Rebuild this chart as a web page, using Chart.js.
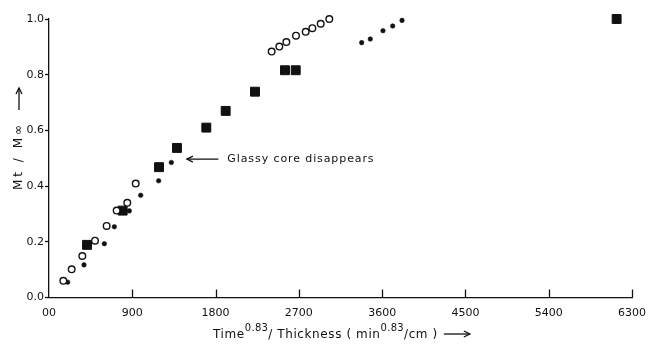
<!DOCTYPE html>
<html>
<head>
<meta charset="utf-8">
<script src="https://cdn.jsdelivr.net/npm/chart.js@4.4.0/dist/chart.umd.min.js"></script>
<style>
    html, body { margin: 0; padding: 0; background: #fff; }
    #wrap { width: 648px; height: 345px; }
</style>
</head>
<body>
<div id="wrap"><canvas id="sorption"></canvas></div>
<script>
// open circles
const openX = [155, 245, 360, 497, 623, 731, 846, 937, 2406, 2489, 2565, 2669, 2774, 2846, 2936, 3029];
const openY = [0.060, 0.101, 0.149, 0.204, 0.257, 0.312, 0.340, 0.409, 0.883, 0.901, 0.917, 0.940, 0.954, 0.967, 0.983, 1.000];
// small filled dots
const dotX = [202, 378, 598, 706, 868, 991, 1185, 1322, 3379, 3472, 3609, 3714, 3815];
const dotY = [0.055, 0.117, 0.193, 0.254, 0.311, 0.367, 0.419, 0.485, 0.915, 0.928, 0.958, 0.975, 0.995];
// filled squares
const squareX = [411, 796, 1189, 1383, 1700, 1909, 2226, 2550, 2666, 6134];
const squareY = [0.189, 0.312, 0.468, 0.537, 0.610, 0.670, 0.739, 0.816, 0.816, 1.000];

const xTicks = [0, 900, 1800, 2700, 3600, 4500, 5400, 6300];
const yTicks = [0.0, 0.2, 0.4, 0.6, 0.8, 1.0];

const note = { text: 'Glassy core disappears', tipX: 1490, tailX: 1830, y: 0.497 };

const ink = '#111';
const font = 'DejaVu Sans, sans-serif';

function pts(xs, ys) {
    return xs.map((x, i) => ({ x: x, y: ys[i] }));
}

function arrowHead(ctx, x, y, dir) {
    // dir: 1 right, -1 left
    ctx.beginPath();
    ctx.moveTo(x - dir * 6, y - 3);
    ctx.lineTo(x, y);
    ctx.lineTo(x - dir * 6, y + 3);
    ctx.stroke();
}

// inward x ticks, axis titles and the annotation
const decor = {
    id: 'decor',
    afterDraw(chart) {
        const { ctx, chartArea } = chart;
        const xs = chart.scales.x, ys = chart.scales.y;
        ctx.save();
        ctx.strokeStyle = ink;
        ctx.fillStyle = ink;
        ctx.lineWidth = 1.3;

        xTicks.forEach(v => {
            if (v === 0) return;
            const px = Math.round(xs.getPixelForValue(v)) + 0.5;
            ctx.beginPath();
            ctx.moveTo(px, chartArea.bottom);
            ctx.lineTo(px, chartArea.bottom - 8);
            ctx.stroke();
        });

        // annotation
        const ay = ys.getPixelForValue(note.y);
        const tip = xs.getPixelForValue(note.tipX);
        const tail = xs.getPixelForValue(note.tailX);
        ctx.beginPath();
        ctx.moveTo(tip, ay);
        ctx.lineTo(tail, ay);
        ctx.stroke();
        arrowHead(ctx, tip, ay, -1);
        ctx.font = '11px ' + font;
        ctx.letterSpacing = '0.9px';
        ctx.textBaseline = 'middle';
        ctx.textAlign = 'left';
        ctx.fillText(note.text, tail + 9, ay);

        // y title, reading upwards, with arrow
        ctx.save();
        ctx.translate(19, 190);
        ctx.rotate(-Math.PI / 2);
        ctx.font = '12px ' + font;
        ctx.letterSpacing = '3px';
        ctx.textBaseline = 'middle';
        ctx.fillText('Mt / M\u221E', 0, 0);
        ctx.beginPath();
        ctx.moveTo(80, 0);
        ctx.lineTo(102, 0);
        ctx.stroke();
        arrowHead(ctx, 102, 0, 1);
        ctx.restore();

        // x title with superscripts
        const parts = [
            ['Time', false], ['0.83', true], ['/ Thickness ( min', false],
            ['0.83', true], ['/cm )', false]
        ];
        let cx = 213;
        const base = 338;
        ctx.textBaseline = 'alphabetic';
        parts.forEach(([t, sup]) => {
            ctx.font = (sup ? '10px ' : '12px ') + font;
            ctx.letterSpacing = sup ? '0.3px' : '0.6px';
            ctx.fillText(t, cx, sup ? base - 7 : base);
            cx += ctx.measureText(t).width;
        });
        cx += 6;
        ctx.beginPath();
        ctx.moveTo(cx, base - 4);
        ctx.lineTo(cx + 26, base - 4);
        ctx.stroke();
        arrowHead(ctx, cx + 26, base - 4, 1);

        ctx.restore();
    }
};

new Chart(document.getElementById('sorption'), {
    type: 'scatter',
    data: {
        datasets: [
            {
                label: 'open',
                data: pts(openX, openY),
                pointStyle: 'circle',
                pointRadius: 3.3,
                borderWidth: 1.4,
                borderColor: ink,
                backgroundColor: '#fff'
            },
            {
                label: 'dots',
                data: pts(dotX, dotY),
                pointStyle: 'circle',
                pointRadius: 2.3,
                borderWidth: 0.5,
                borderColor: ink,
                backgroundColor: ink
            },
            {
                label: 'squares',
                data: pts(squareX, squareY),
                pointStyle: 'rect',
                pointRadius: 6.3,
                borderWidth: 1,
                borderColor: ink,
                backgroundColor: ink
            }
        ]
    },
    options: {
        responsive: true,
        maintainAspectRatio: false,
        animation: false,
        clip: false,
        layout: { padding: { top: 19, right: 16, left: 0, bottom: 0 } },
        plugins: {
            legend: { display: false },
            tooltip: { enabled: false }
        },
        scales: {
            x: {
                type: 'linear',
                min: 0,
                max: 6300,
                afterBuildTicks: s => { s.ticks = xTicks.map(v => ({ value: v })); },
                afterFit: s => { s.height = 47.5; s.paddingRight = 0; s.paddingLeft = 0; },
                grid: { drawOnChartArea: false, drawTicks: false },
                border: { color: ink, width: 1.3 },
                ticks: {
                    color: ink,
                    padding: 9,
                    maxRotation: 0,
                    font: { family: font, size: 11 },
                    callback: v => v === 0 ? '00' : String(v)
                }
            },
            y: {
                type: 'linear',
                min: 0,
                max: 1,
                afterBuildTicks: s => { s.ticks = yTicks.map(v => ({ value: v })); },
                afterFit: s => { s.width = 49; },
                grid: { drawOnChartArea: false, tickLength: 4, color: ink, tickWidth: 1.3 },
                border: { color: ink, width: 1.3 },
                ticks: {
                    color: ink,
                    padding: 1,
                    font: { family: font, size: 11 },
                    callback: v => Number(v).toFixed(1)
                }
            }
        }
    },
    plugins: [decor]
});
</script>
</body>
</html>
